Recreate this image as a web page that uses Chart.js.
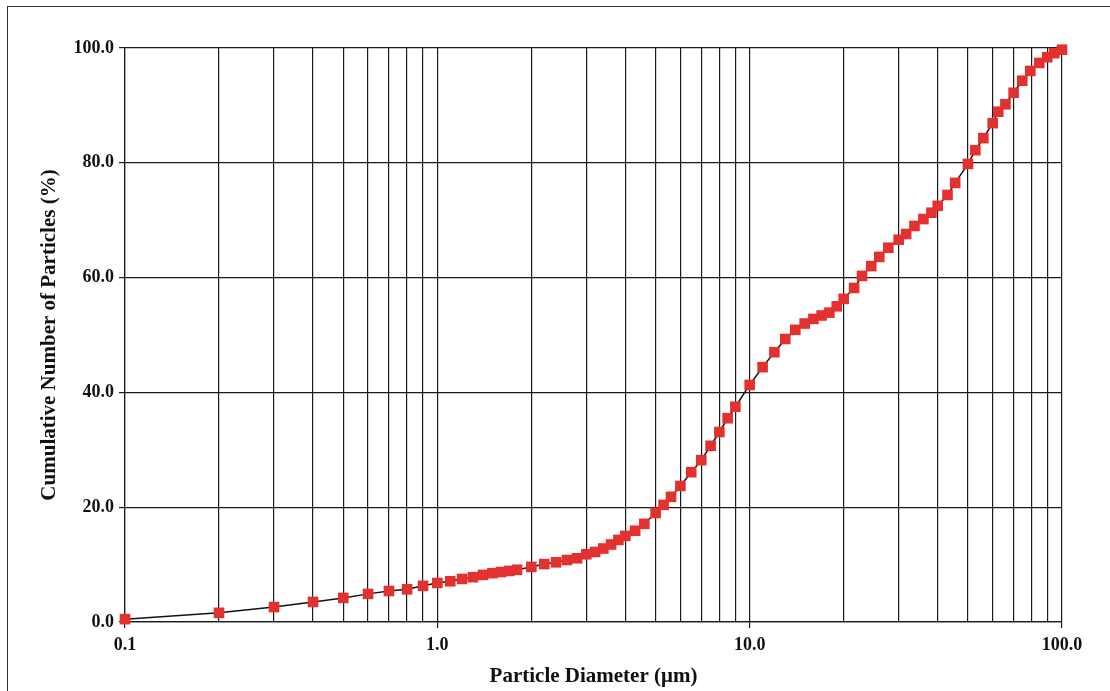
<!DOCTYPE html>
<html>
<head>
<meta charset="utf-8">
<script src="https://cdn.jsdelivr.net/npm/chart.js@4.4.0/dist/chart.umd.min.js"></script>
<style>
  body { margin: 0; background: #fff; }
  #wrap { position: relative; width: 1110px; height: 691px; }
  #frame { position: absolute; left: 7px; top: 6px; right: -2px; bottom: -2px; border-left: 1px solid #333; border-top: 1px solid #333; }
  canvas { position: absolute; left: 0; top: 0; }
</style>
</head>
<body>
<div id="wrap">
  <div id="frame"></div>
  <canvas id="psdChart" width="1110" height="691"></canvas>
</div>
<script>
// particle diameters (µm) and cumulative count (%)
const diameters = [0.1, 0.2, 0.3, 0.4, 0.5, 0.6, 0.7, 0.8, 0.9, 1.0,
    1.1, 1.2, 1.3, 1.4, 1.5, 1.6, 1.7, 1.8,
    2.0, 2.2, 2.4, 2.6, 2.8, 3.0, 3.2, 3.4, 3.6, 3.8,
    4.0, 4.3, 4.6, 5.0, 5.3, 5.6, 6.0, 6.5, 7.0, 7.5, 8.0, 8.5, 9.0, 10,
    11, 12, 13, 14, 15, 16, 17, 18, 19, 20,
    21.6, 22.9, 24.5, 26, 27.8, 30, 31.7, 33.7, 36, 38.2, 40,
    43, 45.5, 50, 52.8, 56, 60, 62.5, 65.9, 70, 74.6, 79.2, 84.6, 89.7, 94.5, 100];
const cumulative = [0.5, 1.6, 2.6, 3.5, 4.2, 4.9, 5.4, 5.7, 6.3, 6.8,
    7.1, 7.5, 7.8, 8.2, 8.5, 8.7, 8.9, 9.1,
    9.6, 10.1, 10.4, 10.8, 11.1, 11.8, 12.2, 12.8, 13.5, 14.3,
    15.0, 15.9, 17.1, 19.0, 20.4, 21.8, 23.7, 26.1, 28.2, 30.7, 33.1, 35.5, 37.5, 41.3,
    44.4, 47.0, 49.3, 50.9, 52.0, 52.8, 53.4, 53.9, 55.0, 56.3,
    58.2, 60.3, 62.0, 63.6, 65.2, 66.6, 67.6, 69.0, 70.2, 71.3, 72.5,
    74.4, 76.5, 79.8, 82.2, 84.3, 86.9, 88.9, 90.2, 92.2, 94.3, 96.0, 97.4, 98.4, 99.1, 99.7];

// grid positions on the log axis, labels only on decades
const xGridValues = [0.1, 0.2, 0.3, 0.4, 0.5, 0.6, 0.7, 0.8, 0.9,
    1, 2, 3, 4, 5, 6, 7, 8, 9,
    10, 20, 30, 40, 50, 60, 70, 80, 90, 100];
const xDecades = [0.1, 1, 10, 100];
const yTickValues = [0, 20, 40, 60, 80, 100];

const points = diameters.map((d, i) => ({ x: d, y: cumulative[i] }));
const isDecade = v => xDecades.some(d => Math.abs(d - v) < 1e-9);

const serif = 'Liberation Serif';
const ink = '#111';
const gridColor = '#1a1a1a';

new Chart(document.getElementById('psdChart'), {
    type: 'line',
    data: {
        datasets: [{
            data: points,
            borderColor: ink,
            borderWidth: 1.5,
            tension: 0,
            pointStyle: 'rect',
            pointRadius: 7.5,
            pointHoverRadius: 7.5,
            pointBackgroundColor: '#e3312f',
            pointBorderWidth: 0,
            clip: false
        }]
    },
    options: {
        responsive: false,
        animation: false,
        layout: { padding: { top: 48, right: 48, left: 0, bottom: 0 } },
        plugins: {
            legend: { display: false },
            tooltip: { enabled: false }
        },
        scales: {
            x: {
                type: 'logarithmic',
                min: 0.1,
                max: 100,
                afterBuildTicks: function(scale) {
                    scale.ticks = xGridValues.map(v => ({ value: v, major: isDecade(v) }));
                },
                afterFit: function(scale) { scale.height = 69; },
                ticks: {
                    autoSkip: false,
                    maxRotation: 0,
                    padding: 7,
                    color: ink,
                    font: { family: serif, size: 18, weight: 'bold' },
                    callback: function(value) {
                        return isDecade(value) ? Number(value).toFixed(1) : '';
                    }
                },
                grid: {
                    color: gridColor,
                    lineWidth: 1.2,
                    tickLength: 6,
                    tickColor: ctx => (ctx.tick && ctx.tick.major) ? gridColor : 'rgba(0,0,0,0)'
                },
                border: { color: gridColor, width: 1.2 },
                title: {
                    display: true,
                    text: 'Particle Diameter (μm)',
                    color: ink,
                    font: { family: serif, size: 21, weight: 'bold' },
                    padding: { top: 0, bottom: 2 }
                }
            },
            y: {
                min: 0,
                max: 100,
                afterBuildTicks: function(scale) {
                    scale.ticks = yTickValues.map(v => ({ value: v }));
                },
                afterFit: function(scale) { scale.width = 125; },
                ticks: {
                    padding: 5,
                    color: ink,
                    font: { family: serif, size: 18, weight: 'bold' },
                    callback: value => Number(value).toFixed(1)
                },
                grid: {
                    color: gridColor,
                    lineWidth: 1.2,
                    tickLength: 6
                },
                border: { color: gridColor, width: 1.2 },
                title: {
                    display: true,
                    text: 'Cumulative Number of Particles (%)',
                    color: ink,
                    font: { family: serif, size: 21, weight: 'bold' },
                    padding: { top: 37, bottom: 0 }
                }
            }
        }
    }
});
</script>
</body>
</html>
